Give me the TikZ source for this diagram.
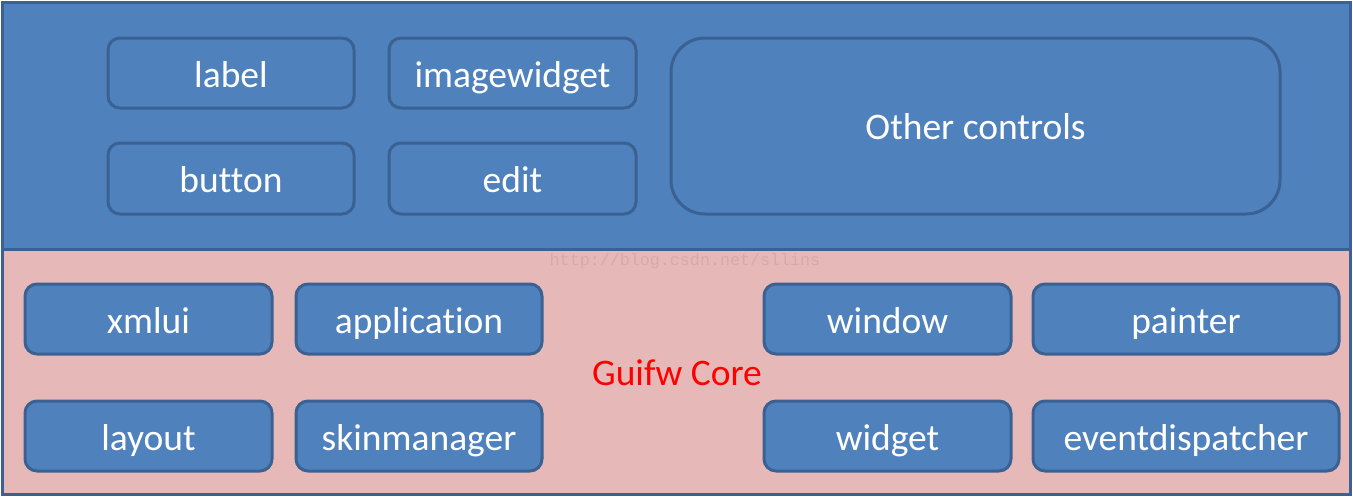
\documentclass[tikz,border=0pt]{standalone}
\usepackage{fontspec}
\setmainfont{Carlito}[Ligatures={NoCommon}]
\newfontfamily\wmfont{Liberation Mono}
\definecolor{boxblue}{HTML}{4F81BD}
\definecolor{edgeblue}{HTML}{3A6191}
\definecolor{corepink}{HTML}{E6B9B8}
\definecolor{wmcol}{HTML}{D4ABAA}
\begin{document}
\begin{tikzpicture}[x=1pt,y=-1pt,
  panel/.style={draw=edgeblue,line width=3pt},
  ctrl/.style={draw=edgeblue,fill=boxblue,line width=3pt,rounded corners=12pt},
  lbl/.style={text=white,font=\fontsize{37.5}{42}\selectfont,text height=26pt,text depth=0pt},
]
\useasboundingbox (0,0) rectangle (1353,498);
\fill[white] (0,0) rectangle (1353,498);
% panels
\fill[boxblue] (2,2) rectangle (1350,249);
\fill[corepink] (2,249) rectangle (1350,494);
\draw[panel] (2,249) -- (1350,249);
\draw[panel] (2,2) rectangle (1350,494);
% watermark
\node[text=wmcol,font=\wmfont\fontsize{16.7}{20}\selectfont] (wm) at (685,261) {http://blog.csdn.net/sllins};
% top controls
\draw[ctrl] (108,38) rectangle (354,108);
\node[lbl] (label) at (231,74) {label};
\draw[ctrl] (389,38) rectangle (636,108);
\node[lbl] (imagewidget) at (512.5,74) {imagewidget};
\draw[ctrl] (108,143) rectangle (354,214);
\node[lbl] (button) at (231,179) {button};
\draw[ctrl] (389,143) rectangle (636,214);
\node[lbl] (edit) at (512.5,179) {edit};
\draw[ctrl,rounded corners=34pt] (671,38) rectangle (1280,214);
\node[lbl] (other) at (975.5,126) {Other controls};
% core
\draw[ctrl] (25,284) rectangle (272,354);
\node[lbl] (xmlui) at (148.5,320) {xmlui};
\draw[ctrl] (296,284) rectangle (542,354);
\node[lbl] (application) at (419,320) {application};
\draw[ctrl] (764,284) rectangle (1011,354);
\node[lbl] (window) at (887.5,320) {window};
\draw[ctrl] (1033,284) rectangle (1339,354);
\node[lbl] (painter) at (1186,320) {painter};
\draw[ctrl] (25,401) rectangle (272,471);
\node[lbl] (layout) at (148.5,437) {layout};
\draw[ctrl] (296,401) rectangle (542,471);
\node[lbl] (skinmanager) at (419,437) {skinmanager};
\draw[ctrl] (764,401) rectangle (1011,471);
\node[lbl] (widget) at (887.5,437) {widget};
\draw[ctrl] (1033,401) rectangle (1339,471);
\node[lbl] (eventdispatcher) at (1186,437) {eventdispatcher};
\node[lbl,text=red] (core) at (677,372) {Guifw Core};
\end{tikzpicture}
\end{document}
